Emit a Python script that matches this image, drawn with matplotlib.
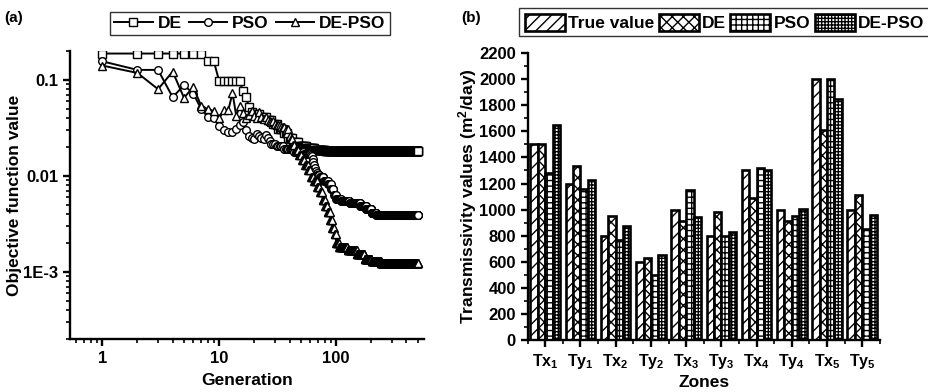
import numpy as np
import matplotlib
matplotlib.use("Agg")
import matplotlib.pyplot as plt
from matplotlib.patches import Patch
from matplotlib.lines import Line2D
from matplotlib.ticker import LogLocator, NullFormatter, MultipleLocator

plt.rcParams['font.family'] = ['Liberation Sans', 'DejaVu Sans']
plt.rcParams['font.weight'] = 'bold'
plt.rcParams['mathtext.fontset'] = 'custom'
plt.rcParams['mathtext.rm'] = 'Liberation Sans:bold'
plt.rcParams['mathtext.bf'] = 'Liberation Sans:bold'
plt.rcParams['mathtext.it'] = 'Liberation Sans:bold'
plt.rcParams['hatch.linewidth'] = 1.0

# ---------------- Data: convergence (value, number of generations) runs ----------------
de_values = [0.188, 0.156, 0.097, 0.076, 0.066, 0.052, 0.046, 0.044, 0.041, 0.038,
             0.035, 0.031, 0.028, 0.025, 0.0225, 0.0205, 0.0195, 0.0188, 0.0183]
de_counts = [7, 2, 6, 1, 1, 1, 1, 3, 3, 3,
             3, 4, 3, 4, 5, 8, 10, 15, 420]

pso_values = [0.156, 0.127, 0.127, 0.066, 0.088, 0.072, 0.050, 0.041, 0.040, 0.033,
              0.030, 0.029, 0.029, 0.031, 0.034, 0.036, 0.030, 0.026, 0.025, 0.0245,
              0.027, 0.026, 0.025, 0.024, 0.0265, 0.025, 0.023,
              0.0215, 0.0205, 0.019, 0.0178, 0.017,
              0.0165, 0.016, 0.015, 0.014, 0.013, 0.012, 0.0113, 0.0107,
              0.0102, 0.0097, 0.0089, 0.0082, 0.0073, 0.0064,
              0.0058, 0.0055, 0.0052, 0.0049, 0.0045, 0.0041, 0.00395]
pso_counts = [1] * 27 + [3, 5, 8, 9, 8] + [1] * 8 + [4, 6, 7, 5, 5, 4] + [11, 20, 30, 20, 20, 20, 280]

depso_values = [0.141, 0.118, 0.080, 0.122, 0.065, 0.084, 0.054, 0.0495, 0.0475, 0.040,
                0.048, 0.049, 0.073, 0.042, 0.054, 0.045, 0.040, 0.043, 0.047, 0.042,
                0.040, 0.046, 0.041, 0.039, 0.041, 0.038, 0.037, 0.036, 0.037, 0.035,
                0.034, 0.032, 0.030, 0.028, 0.031, 0.026,
                0.024, 0.021, 0.0188, 0.0165, 0.0147, 0.013, 0.0116,
                0.0098, 0.0088, 0.0077, 0.0068, 0.0056, 0.0049, 0.0042, 0.0035, 0.0029,
                0.0025, 0.0020, 0.0018, 0.00168, 0.00152, 0.00138, 0.0013, 0.00125]
depso_counts = [1] * 30 + [3, 3, 1, 1, 1, 1] + [2, 2, 3, 3, 3, 4, 3] + [4] * 9 + [3, 6, 20, 25, 25, 25, 40, 260]

# ---------------- Data: transmissivity ----------------
zones = [r'Tx$_{1}$', r'Ty$_{1}$', r'Tx$_{2}$', r'Ty$_{2}$', r'Tx$_{3}$',
         r'Ty$_{3}$', r'Tx$_{4}$', r'Ty$_{4}$', r'Tx$_{5}$', r'Ty$_{5}$']
true_vals = [1500, 1200, 800, 600, 1000, 800, 1300, 1000, 2000, 1000]
de_vals = [1505, 1335, 950, 630, 910, 980, 1090, 915, 1610, 1110]
pso_vals = [1280, 1160, 770, 500, 1150, 800, 1320, 955, 2000, 850]
depso_vals = [1650, 1230, 875, 655, 945, 830, 1305, 1005, 1850, 960]

# ---------------- Figure ----------------
fig = plt.figure(figsize=(9.29, 3.92), dpi=100)
ax1 = fig.add_axes([0.0754, 0.135, 0.381, 0.735])
ax2 = fig.add_axes([0.568, 0.132, 0.379, 0.733])

LW = 1.7
for ax in (ax1, ax2):
    for s in ('top', 'right'):
        ax.spines[s].set_visible(False)
    for s in ('left', 'bottom'):
        ax.spines[s].set_linewidth(LW)
    ax.tick_params(which='major', direction='out', length=5, width=LW, labelsize=12)
    ax.tick_params(which='minor', direction='out', length=3, width=1.2)

# ---- panel (a)
de = np.repeat(de_values, de_counts)
pso = np.repeat(pso_values, pso_counts)
depso = np.repeat(depso_values, depso_counts)
gen = np.arange(1, len(de) + 1)

mk = dict(color='black', lw=1.4, mfc='white', mec='black', mew=1.0, ms=5.5)
ax1.plot(gen, de, marker='s', **mk)
ax1.plot(gen, pso, marker='o', **mk)
ax1.plot(gen, depso, marker='^', **mk)
ax1.set_xscale('log')
ax1.set_yscale('log')
ax1.set_xlim(0.53, 565)
ax1.set_ylim(2e-4, 0.2)
ax1.set_xticks([1, 10, 100])
ax1.set_xticklabels(['1', '10', '100'])
ax1.xaxis.set_minor_locator(LogLocator(base=10, subs=np.arange(2, 10)))
ax1.xaxis.set_minor_formatter(NullFormatter())
ax1.set_yticks([1e-3, 1e-2, 1e-1])
ax1.set_yticklabels(['1E-3', '0.01', '0.1'])
ax1.yaxis.set_minor_locator(LogLocator(base=10, subs=np.arange(2, 10)))
ax1.yaxis.set_minor_formatter(NullFormatter())
ax1.set_xlabel('Generation', fontsize=12.5, fontweight='bold', labelpad=5)
ax1.set_ylabel('Objective function value', fontsize=12.5, fontweight='bold', labelpad=1)

h1 = [Line2D([], [], marker='s', **mk), Line2D([], [], marker='o', **mk),
      Line2D([], [], marker='^', **mk)]
leg1 = fig.legend(h1, ['DE', 'PSO', 'DE-PSO'], loc='center', bbox_to_anchor=(0.269, 0.940),
                  ncol=3, frameon=True, fancybox=False, edgecolor='black',
                  prop={'size': 12.5, 'weight': 'bold'}, handlelength=2.2,
                  handletextpad=0.3, columnspacing=0.4, borderpad=0.25)
leg1.get_frame().set_linewidth(1.0)

# ---- panel (b)
x = np.arange(len(zones))
w = 0.21
series = [true_vals, de_vals, pso_vals, depso_vals]
hatches = ['///', 'xxx', '+++', '+++++']
names = ['True value', 'DE', 'PSO', 'DE-PSO']
for i, (vals, h) in enumerate(zip(series, hatches)):
    ax2.bar(x + (i - 1.5) * w, vals, width=w, facecolor='white', edgecolor='black',
            hatch=h, linewidth=1.9, zorder=2)
ax2.set_xlim(-0.5, 9.5)
ax2.set_ylim(0, 2200)
ax2.set_xticks(x)
ax2.set_xticklabels(zones, fontsize=11.5)
ax2.set_xticks(np.arange(-0.5, 10, 1), minor=True)
ax2.set_yticks(np.arange(0, 2201, 200))
ax2.yaxis.set_minor_locator(MultipleLocator(100))
ax2.set_xlabel('Zones', fontsize=12.5, fontweight='bold', labelpad=3)
ax2.set_ylabel(r'Transmissivity values (m$^{2}$/day)', fontsize=12.5, fontweight='bold', labelpad=0)

h2 = [Patch(facecolor='white', edgecolor='black', hatch=h, linewidth=1.9) for h in hatches]
leg2 = fig.legend(h2, names, loc='center', bbox_to_anchor=(0.780, 0.943), ncol=4,
                  frameon=True, fancybox=False, edgecolor='black',
                  prop={'size': 12.5, 'weight': 'bold'}, handlelength=2.3, handleheight=1.15,
                  handletextpad=0.2, columnspacing=0.25, borderpad=0.3)
leg2.get_frame().set_linewidth(1.0)

fig.text(0.005, 0.955, '(a)', fontsize=11, fontweight='bold', va='center', ha='left')
fig.text(0.497, 0.955, '(b)', fontsize=11, fontweight='bold', va='center', ha='left')

fig.savefig('out.png', dpi=100)
